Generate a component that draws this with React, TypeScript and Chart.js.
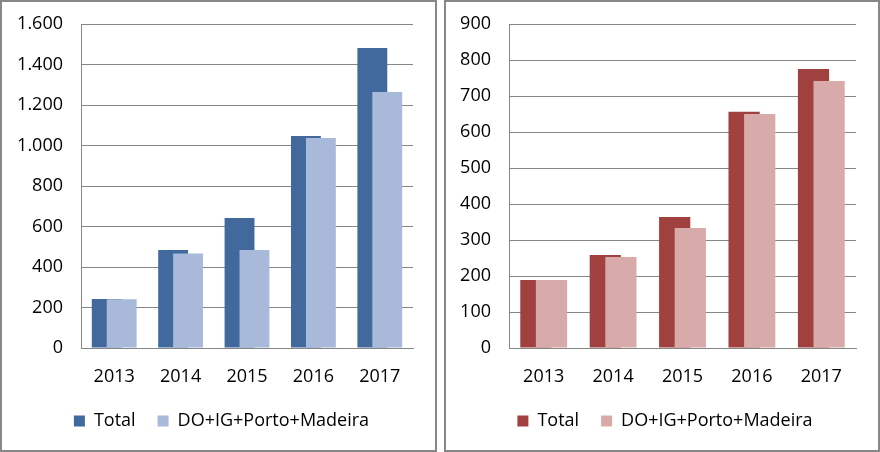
import React, { useEffect, useRef } from "react";
import { Chart, registerables } from "chart.js";

Chart.register(...registerables);

const years = ["2013", "2014", "2015", "2016", "2017"];
const seriesNames = ["Total", "DO+IG+Porto+Madeira"];

const leftTotal = [242, 484, 642, 1047, 1481];
const leftDO = [241, 467, 484, 1037, 1264];
const leftMax = 1600;
const leftStep = 200;

const rightTotal = [189, 258, 364, 656, 775];
const rightDO = [189, 253, 333, 650, 742];
const rightMax = 900;
const rightStep = 100;

const FONT = "Open Sans";
const FS = 18;
const GRID = "#868686";

const fmt = (v: number) => String(v).replace(/\B(?=(\d{3})+(?!\d))/g, ".");

const secondOnTop = {
  id: "secondOnTop",
  beforeDatasetDraw(chart: any, args: any) {
    if (args.index === 1) return false;
  },
  afterDatasetsDraw(chart: any) {
    const meta = chart.getDatasetMeta(1);
    if (meta && !meta.hidden) meta.controller.draw();
  },
};

const legendShift = {
  id: "legendShift",
  afterLayout(chart: any) {
    const dx = 14;
    const dy = 2;
    if (chart.legend) {
      chart.legend.left += dx;
      chart.legend.right += dx;
      chart.legend.top += dy;
      chart.legend.bottom += dy;
    }
  },
};

function Panel(props: {
  total: number[];
  sub: number[];
  max: number;
  step: number;
  colors: [string, string];
  width: number;
  axisWidth: number;
}) {
  const ref = useRef<HTMLCanvasElement>(null);
  useEffect(() => {
    const chart = new Chart(ref.current as HTMLCanvasElement, {
      type: "bar",
      data: {
        labels: years,
        datasets: [
          { label: seriesNames[0], data: props.total, backgroundColor: props.colors[0] },
          { label: seriesNames[1], data: props.sub, backgroundColor: props.colors[1] },
        ],
      },
      plugins: [secondOnTop, legendShift],
      options: {
        responsive: false,
        animation: false,
        devicePixelRatio: 1,
        layout: { padding: { left: 0, right: 22, top: 22, bottom: 12 } },
        datasets: { bar: { categoryPercentage: 0.45, barPercentage: 2 } },
        scales: {
          x: {
            afterFit: (s: any) => {
              s.height = 40;
              s.paddingLeft = 0;
              s.paddingRight = 0;
            },
            grid: { display: false, drawTicks: false },
            border: { display: true, color: GRID, width: 1 },
            ticks: { color: "#000", font: { family: FONT, size: FS }, padding: 18 },
          },
          y: {
            min: 0,
            max: props.max,
            afterFit: (s: any) => {
              s.width = props.axisWidth;
              s.paddingTop = 0;
              s.paddingBottom = 0;
            },
            grid: { color: GRID, lineWidth: 1, drawTicks: false },
            border: { display: true, color: GRID, width: 1 },
            ticks: {
              stepSize: props.step,
              color: "#000",
              font: { family: FONT, size: FS },
              padding: 18,
              callback: (v: any) => fmt(Number(v)),
            },
          },
        },
        plugins: {
          tooltip: { enabled: false },
          legend: {
            position: "bottom",
            labels: {
              color: "#000",
              font: { family: FONT, size: FS },
              boxWidth: 11,
              boxHeight: 11,
              padding: 22,
            },
          },
        },
      } as any,
    });
    return () => chart.destroy();
  }, []);
  return <canvas ref={ref} width={props.width} height={448} style={{ display: "block" }} />;
}

export default function App() {
  const panel = (left: number, width: number): React.CSSProperties => ({
    position: "absolute",
    left,
    top: 0,
    width,
    height: 452,
    border: "2px solid #878787",
    boxSizing: "border-box",
    background: "#fff",
  });
  return (
    <div style={{ position: "fixed", left: 0, top: 0, width: 880, height: 452, background: "#fff" }}>
      <div style={panel(0, 437)}>
        <Panel
          total={leftTotal}
          sub={leftDO}
          max={leftMax}
          step={leftStep}
          colors={["#41699D", "#A8B9D9"]}
          width={433}
          axisWidth={79}
        />
      </div>
      <div style={panel(444, 436)}>
        <Panel
          total={rightTotal}
          sub={rightDO}
          max={rightMax}
          step={rightStep}
          colors={["#A0413F", "#D9AAAA"]}
          width={432}
          axisWidth={63}
        />
      </div>
    </div>
  );
}
